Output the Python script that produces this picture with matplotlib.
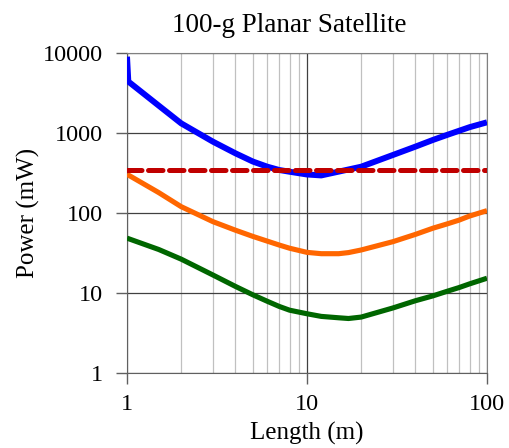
import matplotlib
matplotlib.use('Agg')
import matplotlib.pyplot as plt
from matplotlib.ticker import FixedLocator, NullFormatter, LogLocator

# values
length_blue = [1.0, 1.017, 1.5, 2, 3, 4, 5, 6, 7, 8, 10, 12, 15, 20, 30, 40, 50, 60, 70, 80, 100]
power_blue = [9000, 4400, 2200, 1320, 780, 558, 440, 380, 345, 328, 303, 295, 329, 379, 531,
              675, 818, 946, 1066, 1182, 1360]

length_orange = [1, 1.5, 2, 3, 4, 5, 6, 7, 8, 10, 12, 15, 17, 20, 30, 40, 50, 60, 70, 80, 100]
power_orange = [305, 180, 120, 78, 61, 51, 44.6, 39.8, 36.3, 32.2, 31, 31, 32, 34.5, 43.8,
                54, 64.5, 73, 81.5, 91.6, 107]

length_green = [1, 1.5, 2, 3, 4, 5, 6, 7, 8, 10, 12, 15, 17, 20, 30, 40, 50, 60, 70, 80, 100]
power_green = [48.5, 35, 26.5, 16.8, 12.1, 9.5, 7.9, 6.8, 6.1, 5.5, 5.1, 4.9, 4.8, 5.0, 6.5,
               8.0, 9.2, 10.5, 11.7, 13, 15.3]

limit_length = [1, 100]
limit_power = [345, 345]

plt.rcParams['font.family'] = ['Liberation Serif', 'DejaVu Serif']

fig = plt.figure(figsize=(5.1, 4.48), dpi=100)
ax = fig.add_axes([127 / 510, 1 - 373 / 448, 360 / 510, 320 / 448])

ax.plot(length_blue, power_blue, color='#0000ff', lw=4.3, solid_capstyle='butt',
        solid_joinstyle='round', zorder=4)
ax.plot(length_orange, power_orange, color='#ff6600', lw=3.7, solid_capstyle='butt',
        solid_joinstyle='round', zorder=3)
ax.plot(length_green, power_green, color='#006600', lw=3.7, solid_capstyle='butt',
        solid_joinstyle='round', zorder=3)
ax.plot(limit_length, limit_power, color='#c00000', lw=3.6, dashes=(2.9, 1.3),
        dash_capstyle='round', zorder=5)

ax.set_xscale('log')
ax.set_yscale('log')
ax.set_xlim(1, 100)
ax.set_ylim(1, 10000)

ax.xaxis.set_major_locator(FixedLocator([1, 10, 100]))
ax.yaxis.set_major_locator(FixedLocator([1, 10, 100, 1000, 10000]))
ax.set_xticklabels(['1', '10', '100'])
ax.set_yticklabels(['1', '10', '100', '1000', '10000'])
ax.xaxis.set_minor_locator(LogLocator(base=10, subs=range(2, 10)))
ax.xaxis.set_minor_formatter(NullFormatter())
ax.yaxis.set_minor_locator(FixedLocator([]))

ax.grid(True, which='major', color='#404040', lw=0.9)
ax.grid(True, which='minor', axis='x', color='#c0c0c0', lw=0.9)
ax.set_axisbelow(True)

ax.tick_params(which='major', direction='out', length=8, width=1, color='#606060',
               labelsize=17.5)
ax.tick_params(axis='y', pad=9)
ax.tick_params(axis='x', pad=7)
ax.tick_params(which='minor', length=0)
for s in ax.spines.values():
    s.set_color('#808080')
ax.spines['left'].set_color('#606060')
ax.spines['bottom'].set_color('#606060')

fig.text(289 / 510, 1 - 32 / 448, '100-g Planar Satellite', fontsize=19.5,
         ha='center', va='baseline')
ax.set_xlabel('Length (m)', fontsize=18, labelpad=5)
ax.set_ylabel('Power (mW)', fontsize=18, labelpad=2)

fig.savefig('out.png', dpi=100)
